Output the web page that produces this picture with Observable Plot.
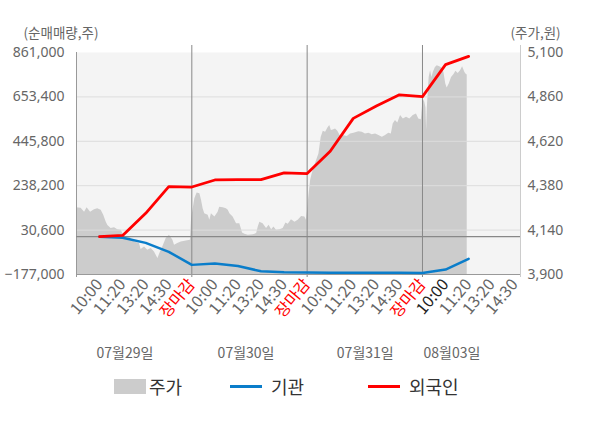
<!DOCTYPE html>
<html>
<head>
<meta charset="utf-8">
<script src="https://cdn.jsdelivr.net/npm/d3@7"></script>
<script src="https://cdn.jsdelivr.net/npm/@observablehq/plot@0.6"></script>
<style>
  html, body { margin: 0; padding: 0; background: #fff; }
  body { width: 600px; height: 428px; overflow: hidden; font-family: "Noto Sans CJK KR", "Noto Sans", sans-serif; }
  #legend { position: relative; height: 40px; color: #333; font-size: 18px; }
  #legend .item { position: absolute; top: 0; height: 32px; display: flex; align-items: center; }
  #legend .sw-box { width: 32px; height: 15px; background: #cccccc; margin-right: 3px; }
  #legend .sw-line { width: 32px; height: 3px; margin-right: 9px; }
</style>
</head>
<body>
<div id="chart"></div>
<div id="legend"></div>
<script>
// ---- data ----
const tickLabels = ["10:00","11:20","13:20","14:30","장마감",
                    "10:00","11:20","13:20","14:30","장마감",
                    "10:00","11:20","13:20","14:30","장마감",
                    "10:00","11:20","13:20","14:30"];
const dates = ["07월29일","07월30일","07월31일","08월03일"];
const dateSlots = [2.1, 7.35, 12.52, 16.28];
const volTicks = [-177000, 30600, 238200, 445800, 653400, 861000];
const priceTicks = [3900, 4140, 4380, 4620, 4860, 5100];

// price per day: [position within day (0..5 tick slots), price]
const p0729 = [[0,4261],[0.2,4258],[0.35,4237],[0.46,4261],[0.61,4237],[0.78,4250],[0.92,4256],
  [1.07,4247],[1.18,4220],[1.29,4183],[1.36,4165],[1.5,4148],[1.65,4153],[1.79,4142],[1.94,4139],
  [2.08,4103],[2.3,4103],[2.52,4076],[2.73,4067],[2.8,4035],[2.95,4049],[3.09,4031],[3.24,4040],
  [3.38,4022],[3.53,3986],[3.64,4022],[3.74,4049],[3.89,4094],[4.03,4112],[4.18,4085],[4.25,4058],
  [4.39,4067],[4.54,4076],[4.76,4081],[4.94,4085]];
const p0730 = [[-0.01,4202],[0.13,4310],[0.23,4340],[0.35,4337],[0.42,4301],[0.49,4256],[0.56,4229],
  [0.71,4220],[0.78,4193],[0.85,4229],[1.0,4211],[1.14,4237],[1.21,4264],[1.36,4261],[1.5,4256],
  [1.58,4247],[1.65,4229],[1.79,4211],[1.94,4175],[2.08,4175],[2.2,4124],[2.3,4117],[2.45,4112],
  [2.66,4115],[2.81,4121],[2.88,4157],[2.95,4183],[3.09,4175],[3.24,4148],[3.35,4166],[3.46,4142],
  [3.56,4157],[3.67,4139],[3.82,4142],[3.96,4148],[4.08,4178],[4.18,4171],[4.32,4196],[4.47,4183],
  [4.61,4193],[4.76,4214],[4.9,4211],[4.97,4193]];
const p0731 = [[0.03,4264],[0.07,4318],[0.15,4408],[0.22,4444],[0.36,4498],[0.51,4552],[0.61,4642],
  [0.7,4674],[0.8,4669],[0.9,4692],[0.98,4705],[1.05,4678],[1.13,4681],[1.23,4687],[1.33,4674],
  [1.45,4646],[1.56,4651],[1.74,4646],[1.88,4660],[2.03,4663],[2.24,4672],[2.39,4669],[2.53,4660],
  [2.68,4663],[2.82,4656],[2.97,4660],[3.11,4651],[3.26,4642],[3.4,4651],[3.54,4663],[3.65,4660],
  [3.73,4714],[3.83,4732],[3.93,4719],[4.05,4759],[4.17,4741],[4.31,4750],[4.45,4741],[4.6,4759],
  [4.74,4768],[4.84,4741],[4.95,4736]];
const p0803 = [[0.03,4849],[0.1,4831],[0.15,4800],[0.18,4678],[0.21,4800],[0.22,4822],[0.29,4965],
  [0.35,5001],[0.41,4965],[0.47,4992],[0.56,5019],[0.64,5028],[0.75,5023],[0.84,5016],[0.93,4992],
  [1.01,4930],[1.07,4908],[1.16,4930],[1.26,4965],[1.36,4980],[1.45,4998],[1.55,4987],[1.65,5001],
  [1.74,5023],[1.84,4992],[1.91,4980],[1.94,4980]];

// cumulative net buying at tick slots 1..17
const flowSlots = [1,2,3,4,5,6,7,8,9,10,11,12,13,14,15,16,17];
const institution = [0,-5600,-29000,-71000,-132000,-126000,-137000,-162000,-167000,-168000,
  -169000,-169000,-169000,-169000,-170000,-154000,-104000];
const foreign = [0,5600,109000,234000,232000,265000,267000,267000,298000,295000,
  399000,553000,611000,663000,655000,804000,843000];

// ---- build ----
const toVol = d3.scaleLinear().domain([3900, 5100]).range([-177000, 861000]);
const priceData = [p0729, p0730, p0731, p0803].flatMap((day, i) =>
  day.map(([t, p]) => ({slot: i * 5 + t, v: toVol(p)})));
const instData = flowSlots.map((s, i) => ({slot: s, v: institution[i]}));
const forData = flowSlots.map((s, i) => ({slot: s, v: foreign[i]}));
const allSlots = tickLabels.map((_, i) => i + 1);
const redSlots = allSlots.filter(s => tickLabels[s - 1] === "장마감");
const darkSlots = [16];
const graySlots = allSlots.filter(s => !redSlots.includes(s) && !darkSlots.includes(s));
const dateData = dates.map((d, i) => ({slot: dateSlots[i], label: d}));
const font = "'Noto Sans CJK KR', 'Noto Sans', sans-serif";
const numFont = "'Noto Sans', 'Noto Sans CJK KR', sans-serif";
const fmt = d3.format(",");

const xAxisOpts = {tickFormat: d => tickLabels[d - 1], tickRotate: -50, tickSize: 0,
  tickPadding: 7, fontSize: 16, label: null};

const chart = Plot.plot({
  width: 600, height: 370,
  marginTop: 52, marginBottom: 96, marginLeft: 76, marginRight: 80,
  x: {domain: [0, 19.25], axis: null, label: null},
  y: {domain: [-177000, 861000], axis: null, label: null},
  style: {fontFamily: font, color: "#666", background: "transparent", overflow: "visible"},
  marks: [
    Plot.frame({fill: "#f4f4f4", stroke: null}),
    Plot.area(priceData, {x1: "slot", y1: -177000, y2: "v", fill: "#cccccc"}),
    Plot.ruleY(volTicks.slice(1, -1), {stroke: "#dddddd", strokeWidth: 1}),
    Plot.ruleX([5, 10, 15], {stroke: "#888", strokeWidth: 1, insetTop: -7, insetBottom: -3}),
    Plot.ruleX([0], {stroke: "#999", strokeWidth: 1, insetBottom: -3}),
    Plot.ruleX([19.25], {stroke: "#ccc", strokeWidth: 1, insetTop: -7, insetBottom: -3}),
    Plot.ruleY([-177000], {stroke: "#999", strokeWidth: 1}),
    Plot.ruleY([0], {stroke: "#888", strokeWidth: 1.3}),
    Plot.line(instData, {x: "slot", y: "v", stroke: "#0a7dca", strokeWidth: 2.5}),
    Plot.line(forData, {x: "slot", y: "v", stroke: "#ff0000", strokeWidth: 2.8}),
    Plot.axisY(volTicks, {anchor: "left", tickFormat: fmt, tickSize: 0, tickPadding: 12, fontSize: 14, fontFamily: numFont, label: null}),
    Plot.axisY(volTicks, {anchor: "right", tickFormat: d => fmt(Math.round(toVol.invert(d))), tickSize: 0, tickPadding: 7, fontSize: 14, fontFamily: numFont, label: null}),
    Plot.axisX(graySlots, {...xAxisOpts, fill: "#666"}),
    Plot.axisX(redSlots, {...xAxisOpts, fill: "#ff0000"}),
    Plot.axisX(darkSlots, {...xAxisOpts, fill: "#222"}),
    Plot.text(dateData, {x: "slot", text: "label", frameAnchor: "bottom", dy: 83, fontSize: 14, fill: "#666"}),
    Plot.text(["(순매매량,주)"], {frameAnchor: "top-left", textAnchor: "start", dx: -53, dy: -24, fontSize: 13.5, fill: "#666"}),
    Plot.text(["(주가,원)"], {frameAnchor: "top-right", textAnchor: "start", dx: -10, dy: -24, fontSize: 13.5, fill: "#666"})
  ]
});
document.getElementById("chart").appendChild(chart);

// legend
const legendItems = [
  {name: "주가", kind: "box", color: "#cccccc", left: 114},
  {name: "기관", kind: "line", color: "#0a7dca", left: 230},
  {name: "외국인", kind: "line", color: "#ff0000", left: 368}
];
const legend = document.getElementById("legend");
for (const it of legendItems) {
  const el = document.createElement("div");
  el.className = "item";
  el.style.left = it.left + "px";
  const sw = document.createElement("span");
  sw.className = it.kind === "box" ? "sw-box" : "sw-line";
  sw.style.background = it.color;
  const tx = document.createElement("span");
  tx.textContent = it.name;
  el.appendChild(sw); el.appendChild(tx);
  legend.appendChild(el);
}
</script>
</body>
</html>
